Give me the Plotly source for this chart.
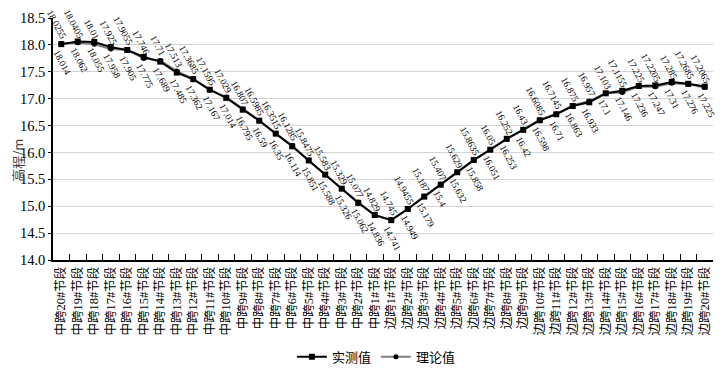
import plotly.graph_objects as go

categories = [f"中跨{i}#节段" for i in range(20, 0, -1)] + [f"边跨{i}#节段" for i in range(1, 21)]

measured = [18.014, 18.062, 18.055, 17.958, 17.905, 17.775, 17.689, 17.485, 17.362, 17.167,
            17.014, 16.795, 16.59, 16.35, 16.114, 15.851, 15.588, 15.326, 15.062, 14.836,
            14.741, 14.949, 15.179, 15.4, 15.632, 15.858, 16.051, 16.253, 16.42, 16.598,
            16.71, 16.863, 16.933, 17.1, 17.146, 17.236, 17.247, 17.31, 17.276, 17.225]

theory = [18.0255, 18.0405, 18.01, 17.925, 17.9055, 17.746, 17.71, 17.513, 17.3685, 17.1595,
          17.029, 16.807, 16.5985, 16.3515, 16.1285, 15.8475, 15.583, 15.329, 15.077, 14.829,
          14.745, 14.9455, 15.187, 15.407, 15.629, 15.8635, 16.05, 16.252, 16.43, 16.6085,
          16.7145, 16.875, 16.957, 17.103, 17.1155, 17.225, 17.2205, 17.285, 17.2685, 17.2065]

measured_text = ["18.014", "18.062", "18.055", "17.958", "17.905", "17.775", "17.689", "17.485", "17.362", "17.167",
                 "17.014", "16.795", "16.59", "16.35", "16.114", "15.851", "15.588", "15.326", "15.062", "14.836",
                 "14.741", "14.949", "15.179", "15.4", "15.632", "15.858", "16.051", "16.253", "16.42", "16.598",
                 "16.71", "16.863", "16.933", "17.1", "17.146", "17.236", "17.247", "17.31", "17.276", "17.225"]
theory_text = ["18.0255", "18.0405", "18.01", "17.925", "17.9055", "17.746", "17.71", "17.513", "17.3685", "17.1595",
               "17.029", "16.807", "16.5985", "16.3515", "16.1285", "15.8475", "15.583", "15.329", "15.077", "14.829",
               "14.745", "14.9455", "15.187", "15.407", "15.629", "15.8635", "16.05", "16.252", "16.43", "16.6085",
               "16.7145", "16.875", "16.957", "17.103", "17.1155", "17.225", "17.2205", "17.285", "17.2685", "17.2065"]

y_ticks = [14.0, 14.5, 15.0, 15.5, 16.0, 16.5, 17.0, 17.5, 18.0, 18.5]
y_title = "高程/m"

SERIF = "Liberation Serif, Noto Sans CJK SC, serif"

fig = go.Figure()
fig.add_trace(go.Scatter(
    x=categories, y=theory, name="理论值", mode="lines+markers",
    line=dict(color="#808080", width=2),
    marker=dict(symbol="circle", size=5, color="#000000"),
))
fig.add_trace(go.Scatter(
    x=categories, y=measured, name="实测值", mode="lines+markers",
    line=dict(color="#000000", width=2),
    marker=dict(symbol="square", size=6, color="#000000"),
))

annotations = []
for c, v, t in zip(categories, theory, theory_text):
    annotations.append(dict(x=c, y=v, text=t, showarrow=False, textangle=62,
                            xanchor="right", yanchor="bottom", xshift=10, yshift=0,
                            font=dict(family=SERIF, size=9.5, color="#000")))
for c, v, t in zip(categories, measured, measured_text):
    annotations.append(dict(x=c, y=v, text=t, showarrow=False, textangle=62,
                            xanchor="left", yanchor="top", xshift=-12, yshift=-2,
                            font=dict(family=SERIF, size=9.5, color="#000")))
annotations.append(dict(xref="paper", yref="paper", x=-0.053, y=0.41, text=y_title,
                        showarrow=False, textangle=-90, xanchor="center", yanchor="middle",
                        font=dict(family="Noto Sans CJK SC", size=13, color="#444")))

fig.update_layout(
    width=715, height=369,
    margin=dict(l=45, r=10, t=10, b=117, autoexpand=False),
    plot_bgcolor="white", paper_bgcolor="white",
    font=dict(family=SERIF, color="#000"),
    showlegend=True,
    legend=dict(orientation="h", x=0.49, xanchor="center", y=-0.40, yanchor="middle",
                traceorder="reversed", font=dict(size=13, family=SERIF), itemwidth=30,
                bgcolor="rgba(0,0,0,0)"),
    annotations=annotations,
)
fig.update_xaxes(
    type="category", categoryorder="array", categoryarray=categories,
    tickangle=-90, tickfont=dict(size=12.5, family=SERIF),
    showline=True, linecolor="#000", linewidth=1.5,
    ticks="inside", ticklen=6, tickcolor="#000", tickson="boundaries",
    showgrid=False, range=[-0.5, 39.5], automargin=False,
)
fig.update_yaxes(
    range=[14.0, 18.5], tickvals=y_ticks, ticktext=[f"{v:.1f}" for v in y_ticks],
    tickfont=dict(size=14.5, family=SERIF),
    showline=True, linecolor="#000", linewidth=1.5,
    ticks="outside", ticklen=3, tickcolor="#000",
    showgrid=True, gridcolor="#d3d3d3", gridwidth=1,
    zeroline=False, automargin=False,
)

fig.write_html("out.html")
